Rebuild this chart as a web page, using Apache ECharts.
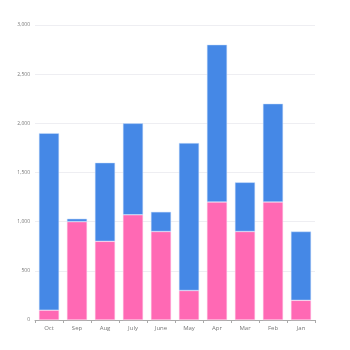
<!DOCTYPE html>
<html><head><meta charset="utf-8">
<script src="https://cdn.jsdelivr.net/npm/echarts@6/dist/echarts.min.js"></script>
<style>html,body{margin:0;padding:0;background:#fff}#c{width:350px;height:350px}</style>
</head><body><div id="c"></div>
<script>
const categories = ['Oct','Sep','Aug','July','June','May','Apr','Mar','Feb','Jan'];
const pinkValues = [100,1000,800,1070,900,300,1200,900,1200,200];
const blueValues = [1800,30,800,930,200,1500,1600,500,1000,700];
const yTicks = [0,500,1000,1500,2000,2500,3000];

const chart = echarts.init(document.getElementById('c'), null, {renderer:'canvas'});
chart.setOption({
  animation:false,
  grid:{left:35,right:35,top:25,bottom:30,containLabel:false},
  xAxis:{type:'category',data:categories,
    axisLine:{lineStyle:{color:'#aaa',width:1}},
    axisTick:{show:true,length:3,lineStyle:{color:'#aaa'}},
    axisLabel:{color:'#777',fontSize:6,margin:5,fontFamily:'Open Sans'}},
  yAxis:{type:'value',min:yTicks[0],max:yTicks[yTicks.length-1],interval:500,
    axisLine:{show:false},axisTick:{show:false},
    splitLine:{lineStyle:{color:'#eeeef2',width:1}},
    axisLabel:{color:'#777',fontSize:5,margin:5,fontFamily:'Open Sans',
      formatter:v=>v.toLocaleString('en-US')}},
  series:[
    {type:'bar',stack:'s',data:pinkValues,barWidth:'72%',
      itemStyle:{color:'#ff69b4',borderColor:'#ffd6ec',borderWidth:0.5}},
    {type:'bar',stack:'s',data:blueValues,barWidth:'72%',
      itemStyle:{color:'#4588e6',borderColor:'#d0e2fb',borderWidth:0.5}}
  ]
});
</script></body></html>
